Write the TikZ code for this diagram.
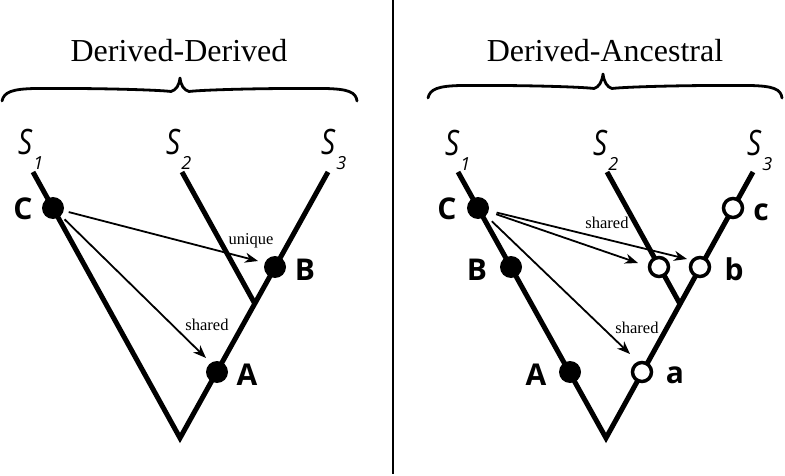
\documentclass[tikz,border=0pt]{standalone}
\usepackage{fontspec}
\usepackage{graphicx}
\setmainfont{Liberation Serif}
\newfontfamily\sansfam{Open Sans}
\usetikzlibrary{arrows.meta}
\newcommand{\spname}[1]{\scalebox{0.8}[1]{\fontsize{35}{35}\selectfont S}\kern1pt\raisebox{-15pt}{\fontsize{18}{18}\selectfont #1}}
\tikzset{
  tree/.style={line width=5pt, line join=miter, line cap=butt},
  fdot/.style={circle, fill=black, inner sep=0pt, minimum size=22pt},
  odot/.style={circle, draw=black, fill=white, line width=3.5pt, inner sep=0pt, minimum size=19pt},
  arr/.style={line width=1.8pt, -{Stealth[length=13pt,width=10pt,inset=4pt]}},
  lab/.style={font=\sansfam\bfseries\fontsize{30}{30}\selectfont, anchor=base, inner sep=0pt},
  smalllab/.style={font=\fontsize{16.5}{16.5}\selectfont, anchor=base, inner sep=0pt},
  titlelab/.style={font=\fontsize{32}{32}\selectfont, anchor=base, inner sep=0pt},
  splab/.style={font=\sansfam\itshape, anchor=base west, inner sep=0pt},
  bracepath/.style={line width=2.8pt, line cap=round, line join=round},
}
\begin{document}
\begin{tikzpicture}[x=1pt,y=-1pt]
\useasboundingbox (0,0) rectangle (785,476);

% divider
\coordinate (dtop) at (393,0);
\coordinate (dbot) at (393,474);
\draw[line width=2pt] (dtop) -- (dbot);

% titles
\node[titlelab] (t1) at (179,62) {Derived-Derived};
\node[titlelab] (t2) at (605,62) {Derived-Ancestral};

% braces
\draw[bracepath] (2,101) .. controls (4,92) and (12,89) .. (35,88.5)
  .. controls (100,88) and (160,90) .. (171,91.5)
  .. controls (176,90) and (179,86) .. (180,78)
  .. controls (181,86) and (184,90) .. (189,91.5)
  .. controls (200,90) and (260,88) .. (325,88.5)
  .. controls (348,89) and (356,92) .. (357,101);
\draw[bracepath] (428,98) .. controls (430,89) and (438,86) .. (461,85.5)
  .. controls (526,85) and (583,87) .. (594,88.5)
  .. controls (599,87) and (602,82) .. (603,74)
  .. controls (604,82) and (607,87) .. (612,88.5)
  .. controls (623,87) and (683,85) .. (750,85.5)
  .. controls (773,86) and (781,89) .. (782,98);

% ---------- left tree ----------
\coordinate (Lr) at (180,438);
\coordinate (L1) at (33,172);
\coordinate (L2) at (182,172);
\coordinate (L3) at (328,172);
\coordinate (Lj) at (255,304);
\draw[tree] (L1) -- (Lr) -- (L3);
\draw[tree] (L2) -- (Lj);

\node[splab] (LS1) at (18,155) {\spname{1}};
\node[splab] (LS2) at (166,155) {\spname{2}};
\node[splab] (LS3) at (321,155) {\spname{3}};

\node[fdot] (LC) at (53,208) {};
\node[fdot] (LB) at (275,267) {};
\node[fdot] (LA) at (217,372) {};

\node[lab] (LCl) at (23,219) {C};
\node[lab] (LBl) at (305,280) {B};
\node[lab] (LAl) at (247,385) {A};

\coordinate (LtB) at (258,261);
\coordinate (LtA) at (206,358);
\draw[arr, shorten <=5pt] (LC) -- (LtB);
\draw[arr, shorten <=5pt] (LC) -- (LtA);
\node[smalllab] (unique) at (251,244) {unique};
\node[smalllab] (Lshared) at (207,330) {shared};

% ---------- right tree ----------
\coordinate (Rr) at (606,438);
\coordinate (R1) at (458,172);
\coordinate (R2) at (607,172);
\coordinate (R3) at (753,172);
\coordinate (Rj) at (680,304);
\draw[tree] (R1) -- (Rr) -- (R3);
\draw[tree] (R2) -- (Rj);

\node[splab] (RS1) at (445,156) {\spname{1}};
\node[splab] (RS2) at (593,156) {\spname{2}};
\node[splab] (RS3) at (747,156) {\spname{3}};

\node[fdot] (RC) at (478,208) {};
\node[fdot] (RB) at (511,267) {};
\node[fdot] (RA) at (570,372) {};
\node[odot] (Rc) at (733,208) {};
\node[odot] (Rb) at (700,267) {};
\node[odot] (Rs) at (659,267) {};
\node[odot] (Ra) at (642,372) {};

\node[lab] (RCl) at (447,219) {C};
\node[lab] (RBl) at (477,280) {B};
\node[lab] (RAl) at (536,385) {A};
\node[lab] (Rcl) at (761,221) {c};
\node[lab] (Rbl) at (734,280) {b};
\node[lab] (Ral) at (675,383) {a};

\coordinate (Rts) at (638,263);
\coordinate (Rtb) at (687,259);
\coordinate (Rta) at (630,354);
\draw[arr, shorten <=8pt] (RC) -- (Rts);
\draw[arr, shorten <=8pt] (RC) -- (Rtb);
\draw[arr, shorten <=8pt] (RC) -- (Rta);
\node[smalllab] (Rshared1) at (607,228) {shared};
\node[smalllab] (Rshared2) at (637,333) {shared};
\end{tikzpicture}
\end{document}
